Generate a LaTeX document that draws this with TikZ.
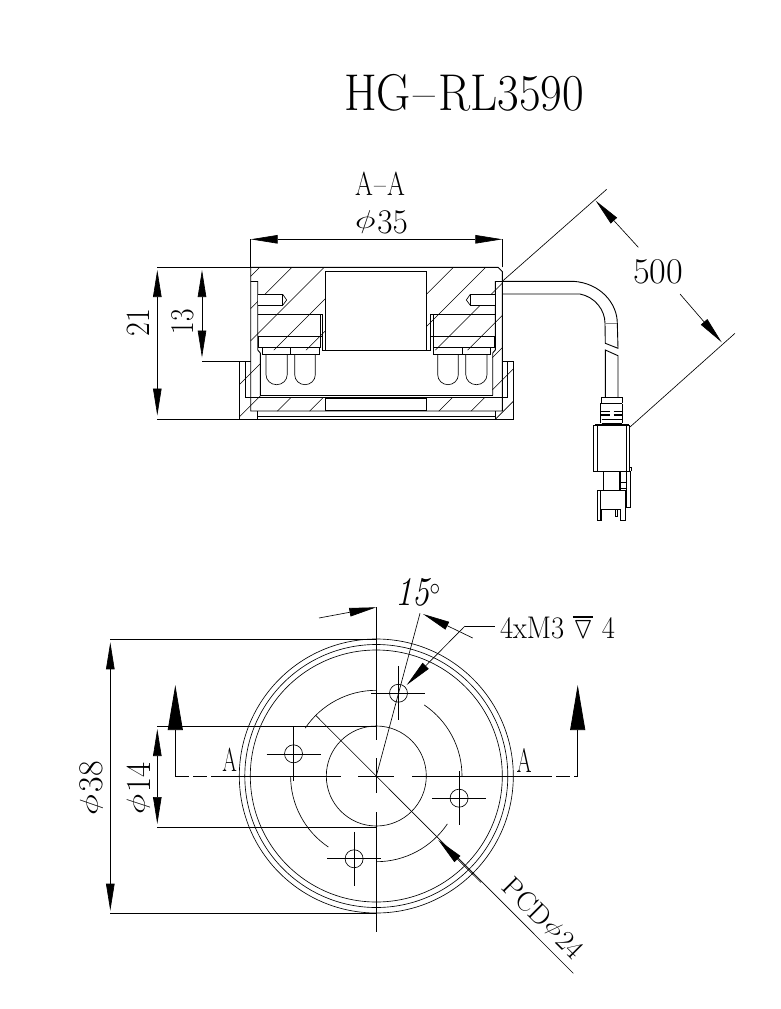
\documentclass[tikz,border=0pt]{standalone}
\usepackage{amssymb}
\usetikzlibrary{arrows.meta,calc}
\tikzset{
	part/.style={line width=0.9pt},
	thinpart/.style={line width=0.65pt},
	hatchline/.style={line width=0.55pt},
	dimline/.style={line width=0.65pt,{Triangle[length=27pt,width=8.5pt]}-{Triangle[length=27pt,width=8.5pt]}},
	oneend/.style={line width=0.65pt,-{Triangle[length=27pt,width=8.5pt]}},
	cutarrow/.style={line width=0.75pt,-{Triangle[length=45pt,width=15pt]}},
	label/.style={inner sep=0pt,outer sep=0pt,anchor=center}
}
% squeezes a text into the box it fills on the drawing
\newcommand{\cadtext}[3]{\resizebox*{#1pt}{#2pt}{\fontsize{40}{40}\selectfont #3}}
% diameter sign as tall as the digits
\newcommand{\dia}{\raisebox{0.145em}{\scalebox{1.7}[1.2]{$\phi$}}\kern0.06em}

\begin{document}
\begin{tikzpicture}[x=1pt,y=1pt,yscale=-1,xscale=1]
		\useasboundingbox (0,0) rectangle (780,1009);

		% Title and section name
		\node[label] (title) at (464,92.5) {\cadtext{240}{37}{HG\kern0.06em--\kern0.06em RL3590}};
		\node[label] (sectionname) at (380,183.5) {\cadtext{50}{23.5}{A\kern0.05em--\kern0.05em A}};

		% Hatching of the section
		\begin{scope}
			\clip (250.7,267.3) rectangle (325.7,350) (250.7,350) rectangle (260.7,411)
			(250.7,397.7) rectangle (325.7,411) (426.7,397.7) rectangle (502.3,411)
			(426.7,267.3) rectangle (502.3,350) (492.3,350) rectangle (502.3,411)
			(239.3,361.3) rectangle (250.7,419) (250.7,411) rectangle (257.7,419)
			(502.3,361.3) rectangle (513.3,419) (495.3,411) rectangle (502.3,419);
			\foreach \k in {0,...,13}
			\draw[hatchline] ({527+32.3*\k-200},200) -- ({527+32.3*\k-450},450);
		\end{scope}

		% Housing, cap and window
		\draw[part] (250.7,267.3) -- (498,267.3) -- (502.3,271.5) -- (502.3,411) -- (250.7,411) -- cycle;
		\draw[part] (239.3,361.3) -- (250.7,361.3) (239.3,361.3) -- (239.3,419) -- (513.3,419) -- (513.3,361.3) -- (502.3,361.3);
		\draw[part] (245,361.3) -- (245,397.7) -- (507.7,397.7) -- (507.7,361.3);
		\draw[part] (260.3,395.3) -- (492.7,395.3);
		\draw[part] (257.7,411) -- (257.7,419) (495.3,411) -- (495.3,419) (257.7,416.5) -- (495.3,416.5);
		\draw[part] (325.7,271.3) rectangle (426.7,350);
		\draw[line width=1.2pt] (325.7,398.5) rectangle (426.7,410.3);

		% Inner parts, the right side is the left one mirrored
		\foreach \sx/\sh in {1/0,-1/753}{
			\begin{scope}[xshift=\sh,xscale=\sx]
				\draw[part] (250.7,281.5) -- (257.7,281.5) -- (257.7,350) -- (260.3,353) -- (260.3,395.3);
				% screw
				\filldraw[part,fill=white] (257.7,294.3) -- (282.7,294.3) -- (282.7,305.3) -- (257.7,305.3);
				\draw[thinpart] (282.7,294.3) -- (286.7,300) -- (282.7,305.3);
				% board and strip
				\draw[part] (257.7,314.3) -- (322.3,314.3) -- (322.3,350) -- (325.7,350);
				\draw[part] (320,314.3) -- (320,347.7);
				\draw[part] (258.3,336) -- (322.3,336);
				\draw[part] (258.3,336) -- (258.3,347.7) -- (320,347.7);
				\draw[part] (262.7,347.7) -- (262.7,354.3) -- (319.7,354.3) -- (319.7,347.7);
				\draw[part] (290.7,347.7) -- (290.7,354.3);
				% LEDs
				\draw[thinpart] (266,354.3) -- (266,374.7) arc[start angle=180,end angle=0,x radius=10.6,y radius=10] -- (287.3,354.3);
				\draw[thinpart] (294.7,354.3) -- (294.7,374.7) arc[start angle=180,end angle=0,x radius=10.3,y radius=10] -- (315.3,354.3);
			\end{scope}
		}

		% Cable
		\draw[part] (502.3,281.3) -- (573.3,281.3) .. controls (600,283) and (617.3,303) .. (617.3,323.3) -- (618,348.3) -- (605.3,343.3) -- (605,323.3);
		\draw[part] (502.3,294) -- (580,294) .. controls (595,297) and (605,310) .. (605,323.3);
		\draw[thinpart,gray] (605,323.3) -- (617.3,323.3);
		\draw[part] (605.3,397.3) -- (605.3,350) -- (618,355.7) -- (618,397.3);

		% Plug with its collar rings
		\draw[line width=1.3pt] (601.7,397.3) -- (622.3,397.3);
		\draw[part] (601.7,397.3) -- (601.7,403.3) (622.3,397.3) -- (622.3,403.3);
		\draw[line width=1.2pt] (600.3,403.5) -- (622.3,403.5);
		\draw[part] (600.3,403.5) -- (600.3,423.3) (622.3,403.5) -- (622.3,423.3);
		\draw[line width=1.1pt] (600.3,411.7) -- (609.5,411.7) (613.5,411.7) -- (622.3,411.7);
		\draw[line width=1.1pt] (600.3,415) -- (609.5,415) (613.5,415) -- (622.3,415);
		\draw[line width=1.1pt] (601.7,419.3) -- (622.3,419.3) (601.7,423.3) -- (622.3,423.3);
		\draw[part] (595.7,425.7) -- (595.7,424.3) -- (628.3,424.3) -- (628.3,425.7);
		\draw[part] (593.3,425.7) rectangle (629,471.3);
		\draw[part] (597.3,425.7) -- (597.3,471.3) (626,425.7) -- (626,471.3);
		\draw[line width=1.3pt] (603.5,471.3) -- (603.5,490.7);
		\draw[line width=1.2pt] (620,471.3) -- (620,490.7);
		\draw[part] (620.5,482.7) -- (626.7,482.7) (620.5,488) -- (626.7,488);
		\draw[part] (626.7,471.3) -- (626.7,507.3) -- (630,507.3) -- (630,471.3) (629,467.3) -- (631.7,467.3) -- (631.7,471.3);
		\draw[part] (597.3,490.7) -- (597.3,520) -- (601.7,520) -- (601.7,509.3) -- (620,509.3) -- (620,520) -- (625,520) -- (625,490.7) -- cycle;
		\draw[thinpart] (600,490.7) -- (600,520);
		\draw[thinpart] (615,509.3) -- (615,516) -- (617.3,516) -- (617.3,509.3);

		% Dimensions of the section
		\draw[thinpart] (250.7,267.3) -- (157.3,267.3) (250.7,419) -- (157.3,419) (239.3,361.3) -- (202,361.3);
		\draw[thinpart] (250.7,267.3) -- (250.7,239.3) (502.3,267.3) -- (502.3,239.3);
		\draw[dimline] (250.7,239.3) -- (502.3,239.3);
		\draw[dimline] (157.3,270) -- (157.3,415.5);
		\draw[dimline] (202,270) -- (202,357.5);
		\node[label] (widthlabel) at (381.5,222.3) {\cadtext{53}{23.5}{\dia 35}};
		\node[label,rotate=90] (heightlabel) at (138.7,322.8) {\cadtext{27.5}{22.5}{21}};
		\node[label,rotate=90] (depthlabel) at (182.5,321.5) {\cadtext{25}{22.5}{13}};

		% Cable length
		\draw[thinpart] (502.3,281.3) -- (606.7,189.3) (630,427) -- (735,333.3);
		\draw[oneend] (638.3,247.3) -- (595.7,200.7);
		\draw[oneend] (680,294) -- (721.7,342.3);
		\node[label] (lengthlabel) at (658.3,271.5) {\cadtext{50}{24.5}{500}};

		% Front view: rings, centre bore and pitch circle pieces
		\coordinate (ctr) at (376.3,776);
		\foreach \rad in {137,131.5,126}
		\draw[thinpart] (ctr) circle[radius=\rad];
		\draw[thinpart] (ctr) circle[radius=50];
		\foreach \k in {0,1,2,3}
		\draw[thinpart] ($(ctr)+({-90*\k}:85.7)$) arc[start angle={-90*\k},end angle={-90*\k-56},radius=85.7];

		% Threaded holes with their cross marks
		\foreach \ang/\nm in {75/a,165/b,255/c,345/d}{
			\coordinate (hole\nm) at ($(ctr)+({-\ang}:85.7)$);
			\draw[thinpart] (hole\nm) circle[radius=9];
			\draw[thinpart] ($(hole\nm)+(-27,0)$) -- ($(hole\nm)+(27,0)$) ($(hole\nm)+(0,-27)$) -- ($(hole\nm)+(0,27)$);
		}

		% Centre lines and cutting plane
		\draw[part] (376.3,607.3) -- (376.3,740) (376.3,758) -- (376.3,793) (376.3,812) -- (376.3,931.7);
		\draw[part] (214,776) -- (341,776) (358.3,776) -- (394.3,776) (412.3,776) -- (538.3,776);
		\draw[part,dash pattern=on 14pt off 4pt] (175.3,776) -- (214,776);
		\draw[part,dash pattern=on 14pt off 4pt] (538.3,776) -- (577.7,776);
		\draw[cutarrow] (175.3,776) -- (175.3,685);
		\draw[cutarrow] (577.7,776) -- (577.7,685);
		\node[label] (cutleft) at (229.5,760) {\cadtext{14.5}{23.5}{A}};
		\node[label] (cutright) at (524.2,760.3) {\cadtext{15}{24}{A}};

		% Outer and bore diameters
		\draw[thinpart] (376.3,639.3) -- (110.3,639.3) (376.3,913.3) -- (110.3,913.3);
		\draw[thinpart] (376.3,726.7) -- (157.3,726.7) (376.3,827.3) -- (157.3,827.3);
		\draw[dimline] (110.3,642.3) -- (110.3,910.7);
		\draw[dimline] (157.3,729) -- (157.3,824);
		\node[label,rotate=90] (outerlabel) at (91.7,788) {\cadtext{54}{23.5}{\dia 38}};
		\node[label,rotate=90] (borelabel) at (138.3,788) {\cadtext{52}{23.5}{\dia 14}};

		% Angle of the holes
		\draw[thinpart] (ctr) -- (420,613.3);
		\draw[oneend] (319,618) -- (376.3,607.3);
		\draw[oneend] (472.7,638) -- (423,614);
		\node[label] (anglelabel) at (418,592) {\cadtext{45}{28}{\itshape 15$^{\circ}$}};

		% Thread callout
		\draw[oneend] (465,626) -- (406.7,685);
		\draw[thinpart] (465,626) -- (495,626);
		\node[label] (threadlabel) at (557.5,627) {\cadtext{115}{24}{4xM3 $\overline{\triangledown}$ 4}};

		% Pitch circle callout
		\draw[thinpart] (316,715.7) -- (573.3,973.3);
		\draw[oneend] (481,882.5) -- (438.3,840);
		\node[label,rotate=-45] (pitchlabel) at (543.3,918) {\cadtext{102}{20}{PCD\dia 24}};
	\end{tikzpicture}
\end{document}
